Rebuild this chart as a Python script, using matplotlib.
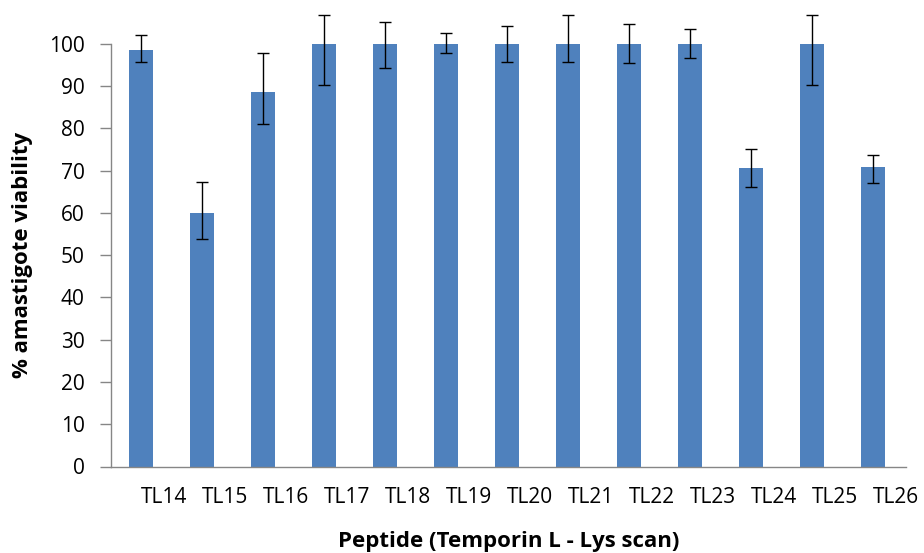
import matplotlib.pyplot as plt
import numpy as np

peptides = ['TL14', 'TL15', 'TL16', 'TL17', 'TL18', 'TL19', 'TL20',
            'TL21', 'TL22', 'TL23', 'TL24', 'TL25', 'TL26']
viability = [98.6, 60.0, 88.6, 100, 100, 100, 100, 100, 100, 100, 70.5, 100, 70.9]
err_low = [2.8, 6.1, 7.5, 9.8, 5.7, 2.1, 4.2, 4.2, 4.5, 3.3, 4.3, 9.8, 3.8]
err_high = [3.4, 7.4, 9.3, 6.9, 5.2, 2.5, 4.1, 6.9, 4.6, 3.4, 4.5, 6.9, 2.9]

plt.rcParams['font.family'] = ['Open Sans', 'DejaVu Sans']

fig = plt.figure(figsize=(9.24, 5.53), dpi=100)
ax = fig.add_axes([111 / 924, 86.5 / 553, 795 / 924, 465 / 553])

x = np.arange(len(peptides))
ax.bar(x, viability, width=0.39, color='#4F81BD', zorder=2)
ax.errorbar(x, viability, yerr=[err_low, err_high], fmt='none',
            ecolor='black', elinewidth=1, capsize=4.3, capthick=1, zorder=3)

ax.set_xlim(-0.49, 12.54)
ax.set_ylim(0, 110)
ax.set_yticks(range(0, 101, 10))
ax.tick_params(axis='y', length=8, width=1, color='#868686', labelsize=15, pad=11)

# category labels sit a bit right of the bars, like in the original
ax.set_xticks(x + 0.38)
ax.set_xticklabels(peptides)
ax.tick_params(axis='x', length=0, labelsize=15, pad=15)

for s in ['top', 'right']:
    ax.spines[s].set_visible(False)
ax.spines['left'].set_bounds(0, 100)
for s in ['left', 'bottom']:
    ax.spines[s].set_color('#868686')
    ax.spines[s].set_linewidth(1)

ax.set_ylabel('% amastigote viability', fontsize=16, fontweight='bold')
ax.yaxis.set_label_coords(-0.098, 50 / 110)  # centred on the 0-100 range
ax.set_xlabel('Peptide (Temporin L - Lys scan)', fontsize=16, fontweight='bold', labelpad=16)

fig.savefig('out.png', dpi=100)
